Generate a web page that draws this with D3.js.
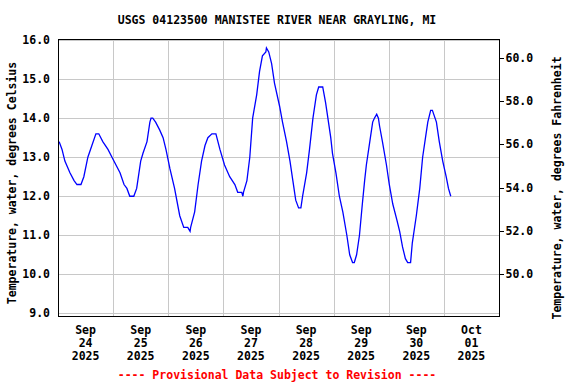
<!DOCTYPE html>
<html>
<head>
<meta charset="utf-8">
<script src="https://cdn.jsdelivr.net/npm/d3@7"></script>
<style>
  html, body { margin: 0; padding: 0; background: #fff; }
  svg { display: block; }
  text { font-family: "DejaVu Sans Mono", "Liberation Mono", monospace; font-weight: bold; font-size: 11.5px; fill: #000; }
</style>
</head>
<body>
<script>
// ---- Data ----
const title = "USGS 04123500 MANISTEE RIVER NEAR GRAYLING, MI";
const leftAxisTitle = "Temperature, water, degrees Celsius";
const rightAxisTitle = "Temperature, water, degrees Fahrenheit";
const footnote = "---- Provisional Data Subject to Revision ----";
const startDate = "2025-09-24T00:00:00";
// hours after Sep 24 2025 00:00
const hours = [0.5,1.75,3,5.2,7,8.25,10,11.25,13,14.75,16.5,17.75,19.5,21.75,23.5,25.25,27,28.75,30,31.25,33,34.25,36,37,38.75,40,40.5,41.25,42.5,44.25,45.75,47,48.75,50.75,53,54.75,56.5,57.5,57.75,59.5,61,62.5,64,65.25,67,68.75,70.5,72.5,74.75,77,78.25,80,80.5,80.75,82.25,83.5,84.75,86.5,87.75,89,90.5,90.75,91.75,93,94.25,96.5,97.75,99.5,101,102.25,103.5,104.75,105.75,106.5,108.25,109.5,111,112.5,113.5,115.25,116.5,117.5,118.75,119.5,121,122.5,124,125.75,127,128.25,129,130,131.25,132.5,133.5,134.25,135.75,137,137.75,138.75,139.5,140,141.25,143,144.25,145.75,147.5,148.75,150,151.25,152.25,153.5,154.25,156,157.5,158.75,160,161,162.25,163,164.75,166,167.5,169,170,171];
const tempC = [13.4,13.2,12.9,12.6,12.4,12.3,12.3,12.5,13.0,13.3,13.6,13.6,13.4,13.2,13.0,12.8,12.6,12.3,12.2,12.0,12.0,12.2,12.9,13.1,13.4,13.9,14.0,14.0,13.9,13.7,13.5,13.2,12.7,12.2,11.5,11.2,11.2,11.1,11.2,11.6,12.3,12.9,13.3,13.5,13.6,13.6,13.2,12.8,12.5,12.3,12.1,12.1,12.0,12.1,12.4,13.0,14.0,14.6,15.2,15.6,15.7,15.8,15.7,15.4,14.9,14.3,13.9,13.4,12.9,12.4,11.9,11.7,11.7,12.0,12.6,13.2,14.0,14.6,14.8,14.8,14.4,14.0,13.5,13.1,12.6,12.0,11.6,11.0,10.5,10.3,10.3,10.5,11.0,11.8,12.4,12.8,13.4,13.9,14.0,14.1,14.0,13.8,13.4,12.8,12.3,11.8,11.4,11.1,10.7,10.4,10.3,10.3,10.8,11.5,12.2,13.0,13.5,13.9,14.2,14.2,13.9,13.4,12.9,12.5,12.2,12.0];
const celsiusTicks = [9, 10, 11, 12, 13, 14, 15, 16];
const fahrenheitTicks = [50, 52, 54, 56, 58, 60];
const dayMonths = ["Sep","Sep","Sep","Sep","Sep","Sep","Sep","Oct"];
const dayNumbers = ["24","25","26","27","28","29","30","01"];
const dayYears = ["2025","2025","2025","2025","2025","2025","2025","2025"];

// ---- Layout ----
const W = 576, H = 384;
const plot = { left: 58, right: 499, top: 39, bottom: 316 };

const svg = d3.select("body").append("svg").attr("width", W).attr("height", H);

const t0 = new Date(startDate);
const dayMs = 864e5;
const x = d3.scaleTime()
  .domain([t0, new Date(t0.getTime() + 8 * dayMs)])
  .range([plot.left, plot.right]);
const y = d3.scaleLinear().domain([8.93, 16.03]).range([plot.bottom, plot.top]);
const yF = d3.scaleLinear().domain([8.93 * 1.8 + 32, 16.03 * 1.8 + 32]).range([plot.bottom, plot.top]);

const data = hours.map((h, i) => ({ t: new Date(t0.getTime() + h * 36e5), v: tempC[i] }));
const midnights = d3.range(1, 8).map(d => new Date(t0.getTime() + d * dayMs));
const noons = d3.range(0, 8).map(d => new Date(t0.getTime() + (d + 0.5) * dayMs));

// Gridlines
const grid = svg.append("g").attr("stroke", "#c8c8c8").attr("stroke-width", 1).attr("shape-rendering", "crispEdges");
grid.selectAll("line.h").data(celsiusTicks).join("line")
  .attr("x1", plot.left).attr("x2", plot.right)
  .attr("y1", d => Math.round(y(d)) + 0.5).attr("y2", d => Math.round(y(d)) + 0.5);
grid.selectAll("line.v").data(midnights).join("line")
  .attr("y1", plot.top).attr("y2", plot.bottom)
  .attr("x1", d => Math.round(x(d)) + 0.5).attr("x2", d => Math.round(x(d)) + 0.5);

// Data line
svg.append("path").datum(data)
  .attr("fill", "none").attr("stroke", "#0000ff").attr("stroke-width", 1.3)
  .attr("d", d3.line().x(d => x(d.t)).y(d => y(d.v)).curve(d3.curveLinear));

// Frame
svg.append("rect")
  .attr("x", plot.left + 0.5).attr("y", plot.top + 0.5)
  .attr("width", plot.right - plot.left).attr("height", plot.bottom - plot.top)
  .attr("fill", "none").attr("stroke", "#000").attr("stroke-width", 1)
  .attr("shape-rendering", "crispEdges");

// Left axis (labels only)
const leftAxis = d3.axisLeft(y).tickValues(celsiusTicks).tickFormat(d3.format(".1f")).tickSize(0).tickPadding(8);
const gl = svg.append("g").attr("transform", `translate(${plot.left},0)`).call(leftAxis);
gl.select(".domain").remove();
gl.selectAll("text").attr("font-family", null).attr("font-size", null).attr("fill", "#000");

// Right axis (Fahrenheit)
const rightAxis = d3.axisRight(yF).tickValues(fahrenheitTicks).tickFormat(d3.format(".1f")).tickSize(4).tickPadding(2);
const gr = svg.append("g").attr("transform", `translate(${plot.right + 0.5},0)`).call(rightAxis);
gr.select(".domain").remove();
gr.selectAll("line").attr("stroke", "#000").attr("shape-rendering", "crispEdges");
gr.selectAll("text").attr("font-family", null).attr("font-size", null).attr("fill", "#000");

// Bottom axis labels (three lines, centred at noon)
const gx = svg.append("g");
const lab = gx.selectAll("text").data(noons).join("text")
  .attr("text-anchor", "middle")
  .attr("x", d => x(d));
lab.each(function(d, i) {
  const t = d3.select(this);
  [dayMonths[i], dayNumbers[i], dayYears[i]].forEach((s, k) => {
    t.append("tspan").attr("x", x(d)).attr("y", 334 + k * 13).text(s);
  });
});

// Titles
svg.append("text").attr("x", 277).attr("y", 24).attr("text-anchor", "middle").text(title);
svg.append("text").attr("transform", "translate(16,183) rotate(-90)").attr("text-anchor", "middle").text(leftAxisTitle);
svg.append("text").attr("transform", "translate(561,188) rotate(-90)").attr("text-anchor", "middle").text(rightAxisTitle);
svg.append("text").attr("x", 277).attr("y", 379).attr("text-anchor", "middle").style("fill", "#ff0000").text(footnote);
</script>
</body>
</html>
